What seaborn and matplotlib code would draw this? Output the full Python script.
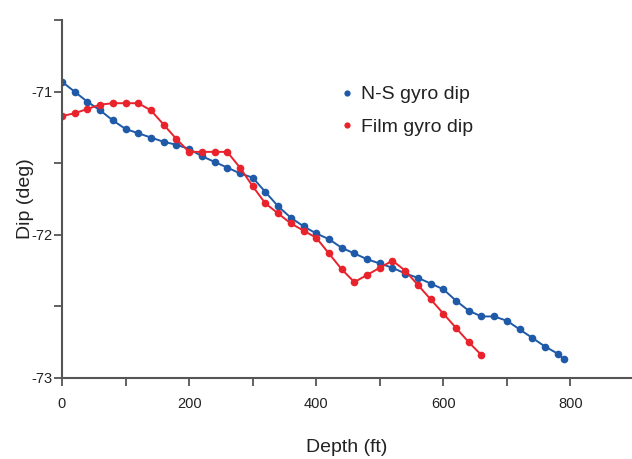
import numpy as np
import pandas as pd
import matplotlib
matplotlib.use("Agg")
import matplotlib.pyplot as plt
import seaborn as sns
from matplotlib.lines import Line2D
from matplotlib.ticker import MultipleLocator

ns_depth = [0, 20, 40, 60, 80, 100, 120, 140, 160, 180, 200, 220, 240, 260, 280, 300,
            320, 340, 360, 380, 400, 420, 440, 460, 480, 500, 520, 540, 560, 580, 600,
            620, 640, 660, 680, 700, 720, 740, 760, 780, 790]
ns_dip = [-70.93, -71.00, -71.07, -71.13, -71.20, -71.26, -71.29, -71.32, -71.35, -71.37,
          -71.40, -71.45, -71.49, -71.53, -71.57, -71.60, -71.70, -71.80, -71.88, -71.94,
          -71.99, -72.03, -72.09, -72.13, -72.17, -72.20, -72.23, -72.27, -72.30, -72.34,
          -72.38, -72.46, -72.53, -72.57, -72.57, -72.60, -72.66, -72.72, -72.78, -72.83,
          -72.87]

film_depth = [0, 20, 40, 60, 80, 100, 120, 140, 160, 180, 200, 220, 240, 260, 280, 300,
              320, 340, 360, 380, 400, 420, 440, 460, 480, 500, 520, 540, 560, 580, 600,
              620, 640, 660]
film_dip = [-71.17, -71.15, -71.12, -71.09, -71.08, -71.08, -71.08, -71.13, -71.23, -71.33,
            -71.42, -71.42, -71.42, -71.42, -71.53, -71.66, -71.78, -71.85, -71.92, -71.97,
            -72.02, -72.13, -72.24, -72.33, -72.28, -72.23, -72.18, -72.25, -72.35, -72.45,
            -72.55, -72.65, -72.75, -72.84]

series_names = ["N-S gyro dip", "Film gyro dip"]
colors = ["#1f5aa8", "#e8232b"]

df = pd.concat([
    pd.DataFrame({"Depth": ns_depth, "Dip": ns_dip, "Series": series_names[0]}),
    pd.DataFrame({"Depth": film_depth, "Dip": film_dip, "Series": series_names[1]}),
])

sns.set_style("ticks")
plt.rcParams['font.family'] = ['Liberation Sans', 'DejaVu Sans']

fig = plt.figure(figsize=(6.32, 4.59), dpi=100)
ax = fig.add_axes([0.0981, 0.1765, 0.9, 0.7795])

sns.lineplot(data=df, x="Depth", y="Dip", hue="Series", palette=colors,
             hue_order=series_names, marker="o", markersize=5.5, markeredgewidth=0,
             linewidth=1.4, sort=False, legend=False, ax=ax)

ax.set_xlim(0, 895)
ax.set_ylim(-73, -70.5)
ax.xaxis.set_major_locator(MultipleLocator(200))
ax.xaxis.set_minor_locator(MultipleLocator(100))
ax.yaxis.set_major_locator(MultipleLocator(1))
ax.yaxis.set_minor_locator(MultipleLocator(0.5))
ax.tick_params(axis="both", which="both", direction="out", length=6, width=1.3,
               color="#555555", labelsize=10.5, labelcolor="#222222")
ax.tick_params(axis="x", pad=8)
ax.tick_params(axis="y", pad=1)
ax.yaxis.set_major_formatter(matplotlib.ticker.FuncFormatter(lambda v, p: f"{v:.0f}"))

for s in ["top", "right"]:
    ax.spines[s].set_visible(False)
for s in ["left", "bottom"]:
    ax.spines[s].set_color("#555555")
    ax.spines[s].set_linewidth(1.5)

ax.set_xlabel("Depth (ft)", fontsize=14, color="#222222", labelpad=20)
ax.set_ylabel("Dip (deg)", fontsize=14, color="#222222", labelpad=-2)

handles = [Line2D([], [], linestyle="none", marker="o", markersize=4.5, color=c,
                  markeredgewidth=0) for c in colors]
ax.legend(handles, series_names, loc="upper left", bbox_to_anchor=(0.471, 0.844),
          frameon=False, fontsize=14, handlelength=0.8, handletextpad=0.32,
          labelspacing=0.78, borderpad=0, labelcolor="#222222")

fig.savefig("out.png", dpi=100)
